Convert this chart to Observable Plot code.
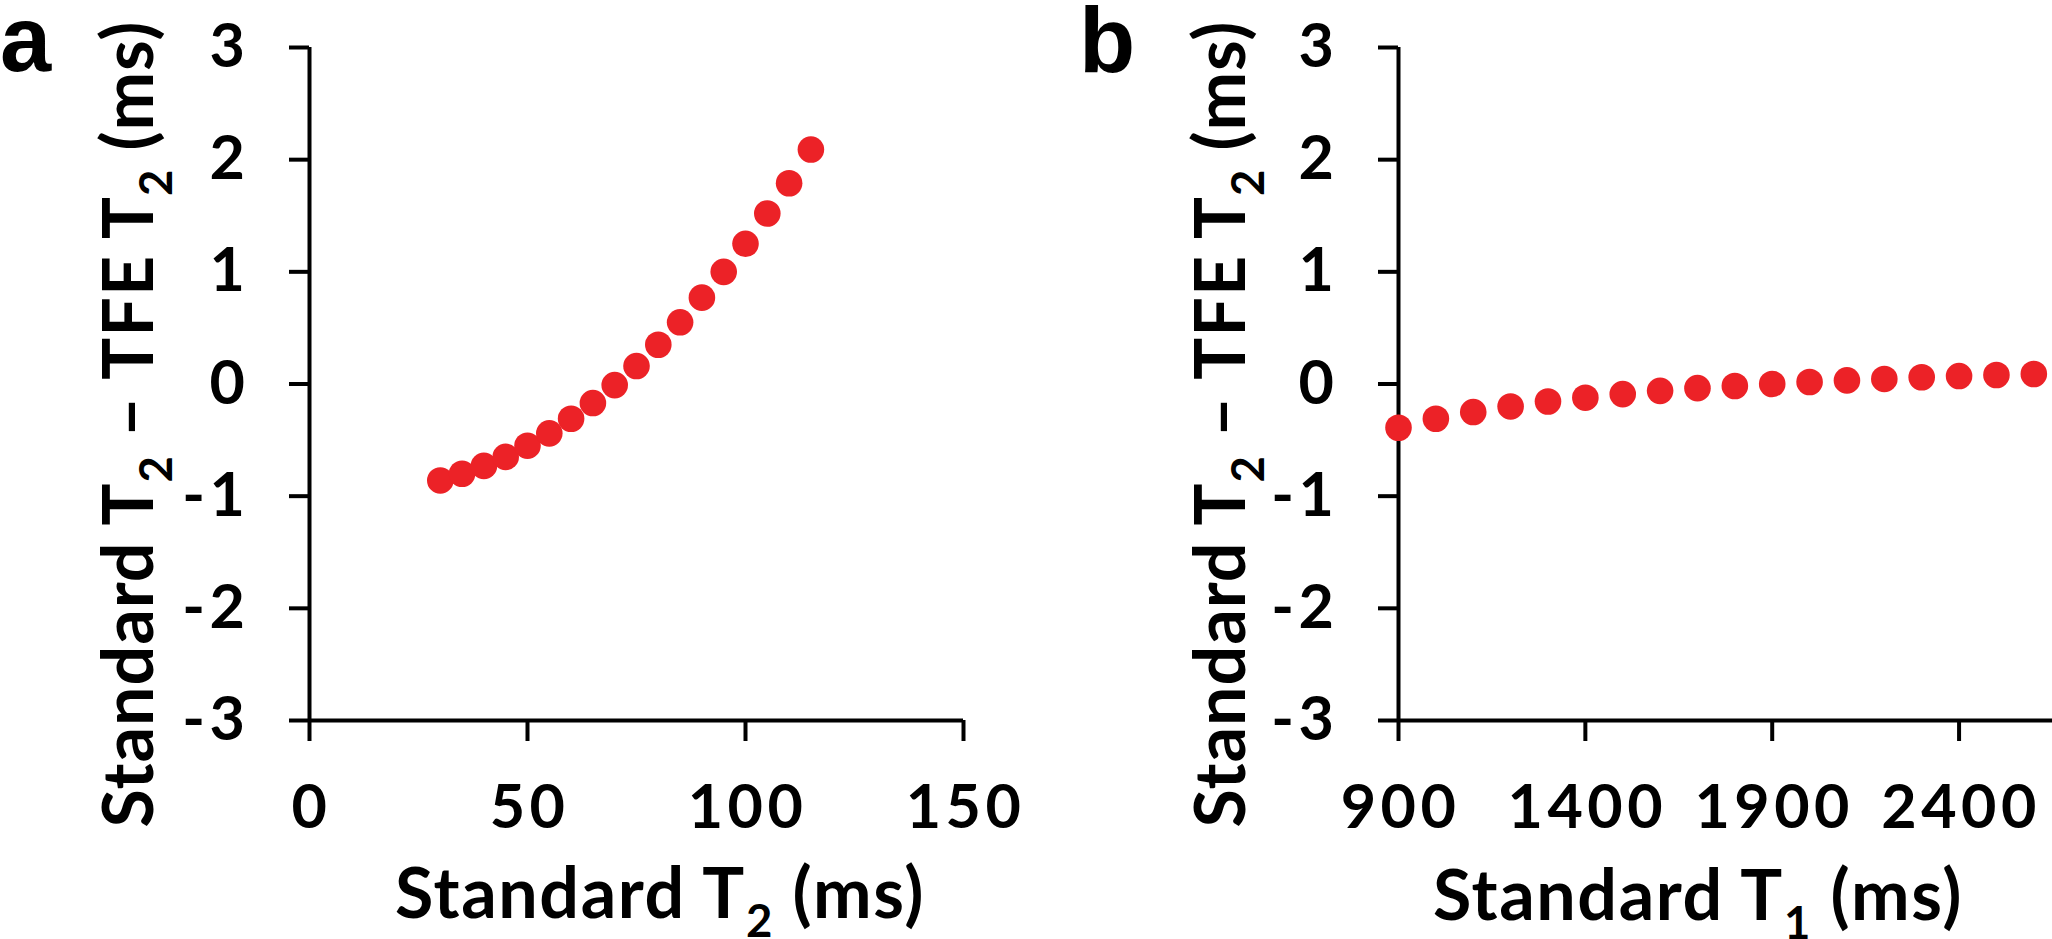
<!DOCTYPE html>
<html>
<head>
<meta charset="utf-8">
<script src="https://cdn.jsdelivr.net/npm/d3@7"></script>
<script src="https://cdn.jsdelivr.net/npm/@observablehq/plot@0.6"></script>
<style>
  html, body { margin: 0; padding: 0; background: #fff; }
  #wrap { position: relative; width: 2052px; height: 939px; overflow: hidden; }
  .panel { position: absolute; top: 0; }
</style>
</head>
<body>
<div id="wrap"></div>
<script>
// ---- Data ----
// Panel a: Standard T2 (ms) vs Standard T2 - TFE T2 (ms)
const standardT2 = [30, 35, 40, 45, 50, 55, 60, 65, 70, 75, 80, 85, 90, 95, 100, 105, 110, 115];
const diffVsT2 = [-0.86, -0.80, -0.73, -0.65, -0.55, -0.44, -0.31, -0.17, -0.01, 0.16, 0.35, 0.55, 0.77, 1.00, 1.25, 1.52, 1.79, 2.09];
// Panel b: Standard T1 (ms) vs Standard T2 - TFE T2 (ms)
const standardT1 = [900, 1000, 1100, 1200, 1300, 1400, 1500, 1600, 1700, 1800, 1900, 2000, 2100, 2200, 2300, 2400, 2500, 2600];
const diffVsT1 = [-0.39, -0.31, -0.25, -0.20, -0.156, -0.122, -0.09, -0.061, -0.037, -0.018, 0.0, 0.018, 0.032, 0.045, 0.06, 0.071, 0.08, 0.089];
// Ticks
const yTicks = [-3, -2, -1, 0, 1, 2, 3];
const xTicksA = [0, 50, 100, 150];
const xTicksB = [900, 1400, 1900, 2400];
// Labels
const panelLabels = ["a", "b"];
const yTitleParts = [["Standard T", false], ["2", true], [" \u2013 TFE T", false], ["2", true], [" (ms)", false]];
const xTitleA = [["Standard T", false], ["2", true], [" (ms)", false]];
const xTitleB = [["Standard T", false], ["1", true], [" (ms)", false]];

const FONT = "Lato, 'Open Sans', sans-serif";
const DOT = "#ec2227";
const W = 1026, H = 939;

function addRichText(svg, {x, y, rotate = 0, anchor = "middle", size, parts, family = FONT, spacing = 0}) {
  const t = d3.select(svg).append("text")
    .attr("transform", `translate(${x},${y}) rotate(${rotate})`)
    .attr("text-anchor", anchor)
    .attr("font-family", family)
    .attr("font-weight", "bold")
    .attr("font-size", size)
    .attr("letter-spacing", spacing)
    .attr("fill", "black");
  const shift = size * 0.27;
  let lowered = false;
  for (const [txt, sub] of parts) {
    const ts = t.append("tspan").text(txt);
    if (sub && !lowered) { ts.attr("font-size", size * 0.65).attr("dy", shift); lowered = true; }
    else if (!sub && lowered) { ts.attr("dy", -shift); lowered = false; }
  }
  return t;
}

function makePanel({xs, ys, xDomain, xTicks, marginLeft, marginRight, xAxisValue}) {
  const data = xs.map((x, i) => ({x, y: ys[i]}));
  const svg = Plot.plot({
    width: W,
    height: H,
    marginTop: 47,
    marginBottom: 219,
    marginLeft,
    marginRight,
    style: {fontFamily: FONT, color: "black", background: "white", overflow: "visible"},
    x: {domain: xDomain},
    y: {domain: [-3, 3]},
    marks: [
      Plot.axisY({ticks: yTicks, tickSize: 20, tickPadding: 40, strokeWidth: 4, fontSize: 61, fontWeight: "bold",
        tickFormat: d => String(d), label: null}),
      Plot.axisX({ticks: xTicks, tickSize: 21, tickPadding: 43, strokeWidth: 4, fontSize: 61, fontWeight: "bold",
        tickFormat: d => String(d), label: null}),
      Plot.ruleX([xAxisValue], {stroke: "black", strokeWidth: 4}),
      Plot.ruleY([-3], {stroke: "black", strokeWidth: 4}),
      Plot.dot(data, {x: "x", y: "y", r: 13.3, fill: DOT, stroke: "none"})
    ]
  });
  // widen the tick labels a little (Calibri-like digit widths)
  d3.select(svg).selectAll('g[aria-label="y-axis tick label"] text').attr("letter-spacing", "4.5px");
  d3.select(svg).selectAll('g[aria-label="x-axis tick label"] text').attr("letter-spacing", "4.5px").attr("dx", 2);
  return svg;
}

const wrap = document.getElementById("wrap");

// Panel a
const svgA = makePanel({xs: standardT2, ys: diffVsT2, xDomain: [0, 150], xTicks: xTicksA,
  marginLeft: 309, marginRight: W - 963, xAxisValue: 0});
svgA.classList.add("panel");
svgA.style.left = "0px";
wrap.appendChild(svgA);
addRichText(svgA, {x: 0, y: 71, anchor: "start", size: 92, parts: [[panelLabels[0], false]], family: "'Liberation Sans', Arial, sans-serif"});
addRichText(svgA, {x: 153, y: 424, rotate: -90, size: 70, parts: yTitleParts, spacing: 1});
addRichText(svgA, {x: 660, y: 918, size: 70, parts: xTitleA, spacing: 1.6});

// Panel b
const svgB = makePanel({xs: standardT1, ys: diffVsT1, xDomain: [900, 2650], xTicks: xTicksB,
  marginLeft: 372, marginRight: 0, xAxisValue: 900});
svgB.classList.add("panel");
svgB.style.left = W + "px";
wrap.appendChild(svgB);
addRichText(svgB, {x: 53, y: 72, anchor: "start", size: 92, parts: [[panelLabels[1], false]], family: "'Liberation Sans', Arial, sans-serif"});
addRichText(svgB, {x: 219, y: 424, rotate: -90, size: 70, parts: yTitleParts, spacing: 1});
addRichText(svgB, {x: 672, y: 920, size: 70, parts: xTitleB, spacing: 1.6});
</script>
</body>
</html>
